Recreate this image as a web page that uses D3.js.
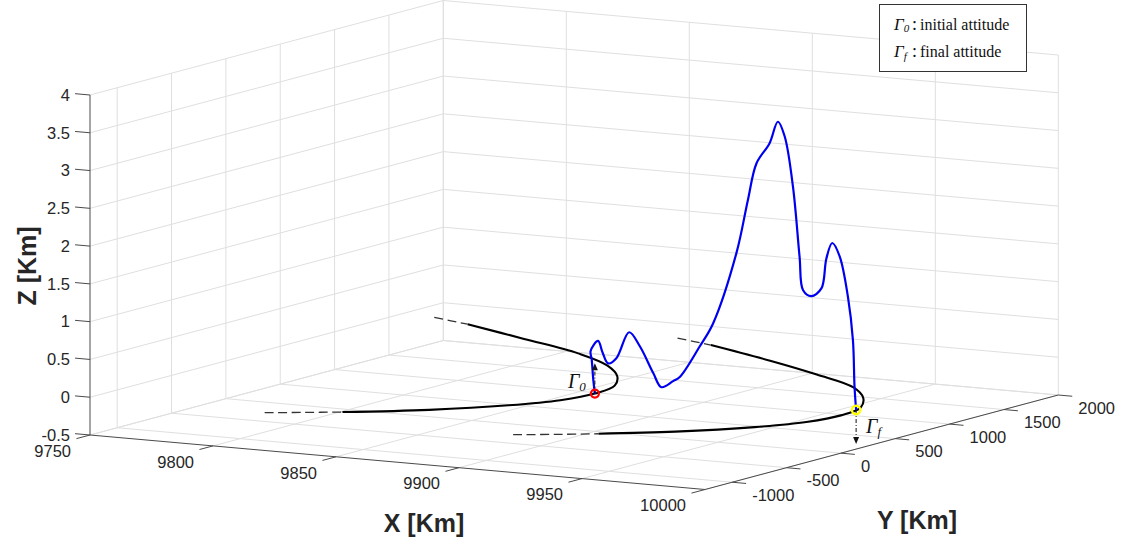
<!DOCTYPE html>
<html>
<head>
<meta charset="utf-8">
<script src="https://cdn.jsdelivr.net/npm/d3@7"></script>
<style>
  html, body { margin: 0; padding: 0; background: #fff; }
  svg { display: block; }
  .tick-label { font-family: "Liberation Sans", Arial, Helvetica, sans-serif; font-size: 16.5px; fill: #262626; }
  .axis-title { font-family: "Liberation Sans", Arial, Helvetica, sans-serif; font-size: 25px; font-weight: bold; fill: #262626; }
  .serif { font-family: "Liberation Serif", "Times New Roman", serif; fill: #111; }
  .greek { font-family: "Liberation Serif", "Times New Roman", serif; font-style: italic; fill: #111; }
</style>
</head>
<body>
<svg id="chart" width="1126" height="550"></svg>
<script>
// ---- axis limits and ticks ----
const xLimits = [9750, 10000];
const yLimits = [-1250, 2000];
const zLimits = [-0.5, 4];
const xTicks = [9750, 9800, 9850, 9900, 9950, 10000];
const yTicks = [-1000, -500, 0, 500, 1000, 1500, 2000];
const zTicks = [-0.5, 0, 0.5, 1, 1.5, 2, 2.5, 3, 3.5, 4];
const xTickLabels = ["9750", "9800", "9850", "9900", "9950", "10000"];
const yTickLabels = ["-1000", "-500", "0", "500", "1000", "1500", "2000"];
const zTickLabels = ["-0.5", "0", "0.5", "1", "1.5", "2", "2.5", "3", "3.5", "4"];

// ---- initial orbit (z = 0), km ----
const orbit0DashLowX = [9821, 9833, 9844];
const orbit0DashLowY = [-1250, -1150, -1055];
const orbit0SolidX = [9844, 9868, 9887, 9897, 9900, 9897, 9887, 9872, 9849, 9816, 9782];
const orbit0SolidY = [-1055, -800, -500, -250, 0, 250, 500, 750, 1000, 1250, 1500];
const orbit0DashHighX = [9782, 9773, 9764];
const orbit0DashHighY = [1500, 1550, 1600];

// ---- final orbit (z = 0), km ----
const orbit1DashLowX = [9922, 9935, 9947];
const orbit1DashLowY = [-1250, -1140, -1030];
const orbit1SolidX = [9947, 9968, 9987, 9997, 10000, 9997, 9987, 9972, 9946, 9916, 9880];
const orbit1SolidY = [-1030, -800, -500, -250, 0, 250, 500, 750, 1000, 1250, 1520];
const orbit1DashHighX = [9880, 9871, 9862];
const orbit1DashHighY = [1520, 1570, 1620];

// ---- transfer trajectory, km ----
const trajX = [9900, 9899.4, 9898.8, 9898.4, 9901.2, 9902.9, 9905.0, 9908.2, 9912.9, 9917.0,
               9922.0, 9925.1, 9929.5, 9932.0, 9939.5, 9944.6, 9953.4, 9957.7, 9960.9, 9965.9,
               9969.0, 9971.6, 9974.7, 9977.2, 9978.5, 9981.6, 9985.4, 9987.3, 9989.5, 9992.3,
               9995.4, 9997.3, 9997.9, 9998.5];
const trajY = [0, -1, -2, -3, 2, 5, 9, 14, 23, 30,
               39, 44, 52, 57, 70, 79, 94, 102, 108, 116,
               122, 126, 132, 136, 139, 144, 151, 154, 158, 163,
               169, 172, 173, 174];
const trajZ = [0, 0.18, 0.45, 0.56, 0.70, 0.55, 0.41, 0.49, 0.84, 0.66,
               0.32, 0.14, 0.23, 0.29, 0.71, 1.03, 1.98, 2.69, 3.18, 3.46,
               3.75, 3.56, 2.90, 1.98, 1.54, 1.47, 1.58, 1.98, 2.19, 2.02,
               1.49, 0.92, 0.31, 0];

// ---- attitude markers: start point and vertical vector length ----
const startPoint = [9900, 0, 0];
const endPoint = [9998.5, 174, 0];
const startVector = 0.4;
const endVector = -0.45;

// ---- legend entries ----
const legendSub = ["0", "f"];
const legendText = ["initial attitude", "final attitude"];

// ---- orthographic projection of the axes box ----
const ux = d3.scaleLinear().domain(xLimits).range([0, 1]);
const uy = d3.scaleLinear().domain(yLimits).range([0, 1]);
const uz = d3.scaleLinear().domain(zLimits).range([0, 1]);
const origin = [90, 435];          // (xmin, ymin, zmin) corner on screen
const ex = [615, 54.5];            // screen span of the x range
const ey = [353.3, -94.5];         // screen span of the y range
const ez = [0, -340];              // screen span of the z range

function project(x, y, z) {
  const a = ux(x), b = uy(y), c = uz(z);
  return [origin[0] + a * ex[0] + b * ey[0] + c * ez[0],
          origin[1] + a * ex[1] + b * ey[1] + c * ez[1]];
}

const [x0, x1] = xLimits, [y0, y1] = yLimits, [z0, z1] = zLimits;
const svg = d3.select("#chart");

function seg(g, a, b) {
  g.append("line").attr("x1", a[0]).attr("y1", a[1]).attr("x2", b[0]).attr("y2", b[1]);
}

// ---- grid on the back walls and floor ----
const grid = svg.append("g").attr("stroke", "#dfdfdf").attr("stroke-width", 1).attr("fill", "none");
zTicks.forEach(z => seg(grid, project(x0, y0, z), project(x0, y1, z)));
yTicks.forEach(y => seg(grid, project(x0, y, z0), project(x0, y, z1)));
zTicks.forEach(z => seg(grid, project(x0, y1, z), project(x1, y1, z)));
xTicks.forEach(x => seg(grid, project(x, y1, z0), project(x, y1, z1)));
xTicks.forEach(x => seg(grid, project(x, y0, z0), project(x, y1, z0)));
yTicks.forEach(y => seg(grid, project(x0, y, z0), project(x1, y, z0)));

// ---- axes lines and ticks ----
const axes = svg.append("g").attr("stroke", "#4a4a4a").attr("stroke-width", 1).attr("fill", "none");
seg(axes, project(x0, y0, z0), project(x0, y0, z1));
seg(axes, project(x0, y0, z0), project(x1, y0, z0));
seg(axes, project(x1, y0, z0), project(x1, y1, z0));

function unit(v) { const n = Math.hypot(v[0], v[1]); return [v[0] / n, v[1] / n]; }
const dirX = unit(ex), dirY = unit(ey);
const tickLen = 14;

xTicks.forEach(x => {
  const p = project(x, y0, z0);
  seg(axes, p, [p[0] - dirY[0] * tickLen, p[1] - dirY[1] * tickLen]);
});
yTicks.forEach(y => {
  const p = project(x1, y, z0);
  seg(axes, p, [p[0] + dirX[0] * tickLen, p[1] + dirX[1] * tickLen]);
});
zTicks.forEach(z => {
  const p = project(x0, y0, z);
  seg(axes, p, [p[0] - dirX[0] * 15, p[1] - dirX[1] * 15]);
});

// ---- tick labels ----
const labels = svg.append("g").attr("class", "tick-label");
xTicks.forEach((x, i) => {
  const p = project(x, y0, z0);
  labels.append("text").attr("x", p[0] - 19).attr("y", p[1] + 16).attr("dy", "0.35em")
    .attr("text-anchor", "end").text(xTickLabels[i]);
});
yTicks.forEach((y, i) => {
  const p = project(x1, y, z0);
  labels.append("text").attr("x", p[0] + 20).attr("y", p[1] + 13).attr("dy", "0.35em")
    .attr("text-anchor", "start").text(yTickLabels[i]);
});
zTicks.forEach((z, i) => {
  const p = project(x0, y0, z);
  labels.append("text").attr("x", p[0] - 20).attr("y", p[1]).attr("dy", "0.35em")
    .attr("text-anchor", "end").text(zTickLabels[i]);
});

// ---- axis titles ----
svg.append("text").attr("class", "axis-title").attr("text-anchor", "middle").attr("dy", "0.35em")
  .attr("transform", "translate(27,266) rotate(-90)").text("Z [Km]");
svg.append("text").attr("class", "axis-title").attr("text-anchor", "middle").attr("dy", "0.35em")
  .attr("x", 424).attr("y", 523).text("X [Km]");
svg.append("text").attr("class", "axis-title").attr("text-anchor", "middle").attr("dy", "0.35em")
  .attr("x", 917).attr("y", 520).text("Y [Km]");

// ---- curves ----
const line3 = d3.line()
  .x(d => project(d[0], d[1], d[2])[0])
  .y(d => project(d[0], d[1], d[2])[1])
  .curve(d3.curveCatmullRom.alpha(0.5));

function pts(xs, ys, zs) { return xs.map((x, i) => [x, ys[i], zs ? zs[i] : 0]); }

const curves = svg.append("g").attr("fill", "none");
function dashed(xs, ys) {
  curves.append("path").attr("d", line3(pts(xs, ys)))
    .attr("stroke", "#333").attr("stroke-width", 1.3).attr("stroke-dasharray", "9,4.5");
}
function solid(xs, ys) {
  curves.append("path").attr("d", line3(pts(xs, ys)))
    .attr("stroke", "#000").attr("stroke-width", 2.1);
}
dashed(orbit0DashLowX, orbit0DashLowY);
solid(orbit0SolidX, orbit0SolidY);
dashed(orbit0DashHighX.slice().reverse(), orbit0DashHighY.slice().reverse());
dashed(orbit1DashLowX, orbit1DashLowY);
solid(orbit1SolidX, orbit1SolidY);
dashed(orbit1DashHighX.slice().reverse(), orbit1DashHighY.slice().reverse());

curves.append("path").attr("d", line3(pts(trajX, trajY, trajZ)))
  .attr("stroke", "#0000f0").attr("stroke-width", 2.2).attr("stroke-linejoin", "round");

// ---- attitude vectors ----
function vector(p, dz) {
  const a = project(p[0], p[1], p[2]);
  const b = project(p[0], p[1], p[2] + dz);
  const s = Math.sign(b[1] - a[1]);
  curves.append("line").attr("x1", a[0]).attr("y1", a[1]).attr("x2", b[0]).attr("y2", b[1] - s * 5)
    .attr("stroke", "#111").attr("stroke-width", 1).attr("stroke-dasharray", "4,2,1,2");
  curves.append("path")
    .attr("d", `M${b[0]},${b[1]} L${b[0] - 3},${b[1] - s * 7} L${b[0] + 3},${b[1] - s * 7} Z`)
    .attr("fill", "#111").attr("stroke", "none");
}
vector(startPoint, startVector);
vector(endPoint, endVector);

// ---- start / end markers ----
const ps = project(...startPoint), pe = project(...endPoint);
svg.append("circle").attr("cx", ps[0]).attr("cy", ps[1]).attr("r", 4)
  .attr("fill", "none").attr("stroke", "#ff0000").attr("stroke-width", 2.2);
svg.append("circle").attr("cx", pe[0]).attr("cy", pe[1]).attr("r", 4.2)
  .attr("fill", "none").attr("stroke", "#ffff00").attr("stroke-width", 2.4);

// ---- Γ labels with subscripts ----
function gammaLabel(parent, x, y, sub, size, subSize) {
  const t = parent.append("text").attr("class", "greek").attr("x", x).attr("y", y);
  t.append("tspan").attr("font-size", size).text("Γ");
  t.append("tspan").attr("font-size", subSize).attr("dy", size * 0.16).text(sub);
  return t;
}
gammaLabel(svg, ps[0] - 27, ps[1] - 6, legendSub[0], 20, 13);
gammaLabel(svg, pe[0] + 10, pe[1] + 23, legendSub[1], 20, 13);

// ---- legend ----
const lg = svg.append("g");
lg.append("rect").attr("x", 879.5).attr("y", 4.5).attr("width", 147).attr("height", 67)
  .attr("fill", "#fff").attr("stroke", "#333").attr("stroke-width", 1);
legendText.forEach((t, i) => {
  const base = 29.5 + i * 27.5;
  const row = gammaLabel(lg, 894, base, legendSub[i], 17, 11);
  row.append("tspan").attr("class", "serif").attr("font-style", "normal").attr("font-size", 18)
    .attr("dy", -17 * 0.16).attr("x", 912).text(":");
  row.append("tspan").attr("class", "serif").attr("font-style", "normal").attr("font-size", 16)
    .attr("x", 920).text(t);
});
</script>
</body>
</html>
